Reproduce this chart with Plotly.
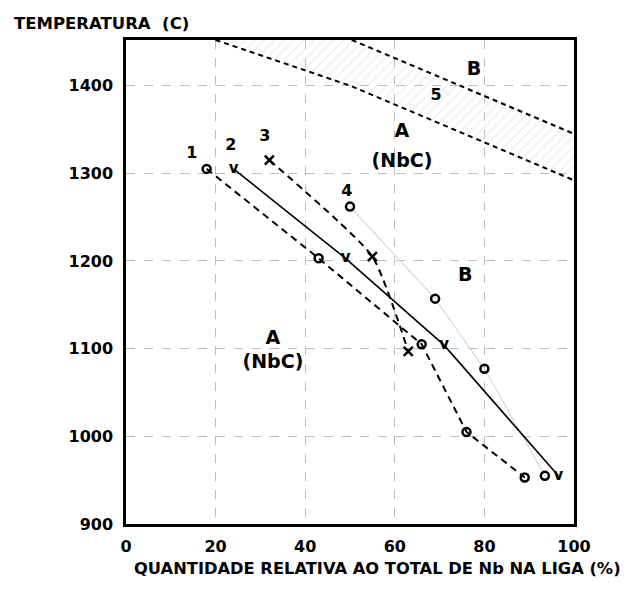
import plotly.graph_objects as go

# ---- data ----
c1_x = [18, 43, 66, 76, 89]
c1_y = [1305, 1203, 1105, 1005, 953]

c2_x = [24, 49, 71, 96.5]
c2_y = [1305, 1203, 1104, 955]

c3_x = [32, 55, 63]
c3_y = [1315, 1205, 1097]

c4_x = [50, 69, 80, 93.5]
c4_y = [1262, 1157, 1077, 955]

c5_upper_x = [50.4, 100]
c5_upper_y = [1452, 1345]
c5_lower_x = [20, 50, 100]
c5_lower_y = [1452, 1400, 1292]

x_ticks = [0, 20, 40, 60, 80, 100]
y_ticks = [900, 1000, 1100, 1200, 1300, 1400]

curve_labels = ["1", "2", "3", "4", "5"]
curve_label_x = [14.7, 23.4, 31, 49.3, 69.2]
curve_label_y = [1322, 1331, 1341, 1279, 1388]

region_text = ["B", "A", "(NbC)", "B", "A", "(NbC)"]
region_x = [77.7, 61.6, 61.6, 75.7, 32.8, 32.8]
region_y = [1418, 1347, 1313, 1183, 1111, 1083]

FONT = "DejaVu Sans"

fig = go.Figure()

# hatched band of curve 5
band_x = c5_lower_x + c5_upper_x[::-1]
band_y = c5_lower_y + c5_upper_y[::-1]
fig.add_trace(go.Scatter(
    x=band_x, y=band_y, mode="lines", fill="toself",
    line=dict(width=0, color="rgba(0,0,0,0)"),
    fillcolor="rgba(0,0,0,0)",
    fillpattern=dict(shape="/", fgcolor="#d4d4d4", bgcolor="rgba(0,0,0,0)",
                     size=7, solidity=0.15),
    hoverinfo="skip", showlegend=False))

# curve 5 lines
for xs, ys in ((c5_upper_x, c5_upper_y), (c5_lower_x, c5_lower_y)):
    fig.add_trace(go.Scatter(x=xs, y=ys, mode="lines",
                             line=dict(color="black", width=2, dash="5px,4px"),
                             showlegend=False))

# curve 4 (faint line, open circles)
fig.add_trace(go.Scatter(x=c4_x, y=c4_y, mode="lines+markers",
                         line=dict(color="#d8d8d8", width=1.2),
                         marker=dict(symbol="circle-open", size=8, color="black",
                                     line=dict(width=2.5, color="black")),
                         showlegend=False))

# curve 1 (dashed, open circles)
fig.add_trace(go.Scatter(x=c1_x, y=c1_y, mode="lines+markers",
                         line=dict(color="black", width=2, dash="7px,5px"),
                         marker=dict(symbol="circle-open", size=8, color="black",
                                     line=dict(width=2.5, color="black")),
                         showlegend=False))

# curve 2 (solid, 'v')
fig.add_trace(go.Scatter(x=c2_x, y=c2_y, mode="lines",
                         line=dict(color="black", width=1.6),
                         showlegend=False))
fig.add_trace(go.Scatter(x=c2_x, y=c2_y, mode="text",
                         text=["v"] * len(c2_x), textposition="middle center",
                         textfont=dict(family=FONT, size=15, color="black", weight="bold"),
                         showlegend=False))

# curve 3 (dashed, 'x')
fig.add_trace(go.Scatter(x=c3_x, y=c3_y, mode="lines",
                         line=dict(color="black", width=2, dash="7px,5px",
                                   shape="spline", smoothing=0.5),
                         showlegend=False))
fig.add_trace(go.Scatter(x=c3_x, y=c3_y, mode="markers",
                         marker=dict(symbol="x-thin", size=9, color="black",
                                     line=dict(width=2.5, color="black")),
                         showlegend=False))

# curve number labels
fig.add_trace(go.Scatter(x=curve_label_x, y=curve_label_y, mode="text",
                         text=curve_labels, textposition="middle center",
                         textfont=dict(family=FONT, size=16, color="black", weight="bold"),
                         showlegend=False))

# region labels
fig.add_trace(go.Scatter(x=region_x, y=region_y, mode="text",
                         text=region_text, textposition="middle center",
                         textfont=dict(family=FONT, size=19, color="black", weight="bold"),
                         showlegend=False))

fig.add_annotation(text="TEMPERATURA\u00a0\u00a0(C)", xref="paper", yref="paper",
                   x=-0.254, y=1.035, xanchor="left", yanchor="middle",
                   showarrow=False,
                   font=dict(family=FONT, size=16.5, color="black", weight="bold"))
fig.add_annotation(text="QUANTIDADE RELATIVA AO TOTAL DE Nb NA LIGA (%)",
                   xref="paper", yref="paper",
                   x=0.561, y=-0.091, xanchor="center", yanchor="middle",
                   showarrow=False,
                   font=dict(family=FONT, size=16.3, color="black", weight="bold"))

axis_common = dict(showline=True, linecolor="black", linewidth=2.5, mirror=True,
                   showgrid=True, gridcolor="#bcbcbc", gridwidth=1, griddash="dash",
                   zeroline=False, ticks="",
                   tickfont=dict(family=FONT, size=16, color="black", weight="bold"))

fig.update_xaxes(range=[0, 100], tickvals=x_ticks, ticklabelstandoff=6, **axis_common)
fig.update_yaxes(range=[900, 1452], tickvals=y_ticks, ticklabelstandoff=7, **axis_common)

fig.update_layout(
    width=627, height=590,
    margin=dict(l=126, r=53, t=40, b=66),
    plot_bgcolor="white", paper_bgcolor="white",
    font=dict(family=FONT, color="black"),
    showlegend=False,
)

fig.write_html("out.html")
